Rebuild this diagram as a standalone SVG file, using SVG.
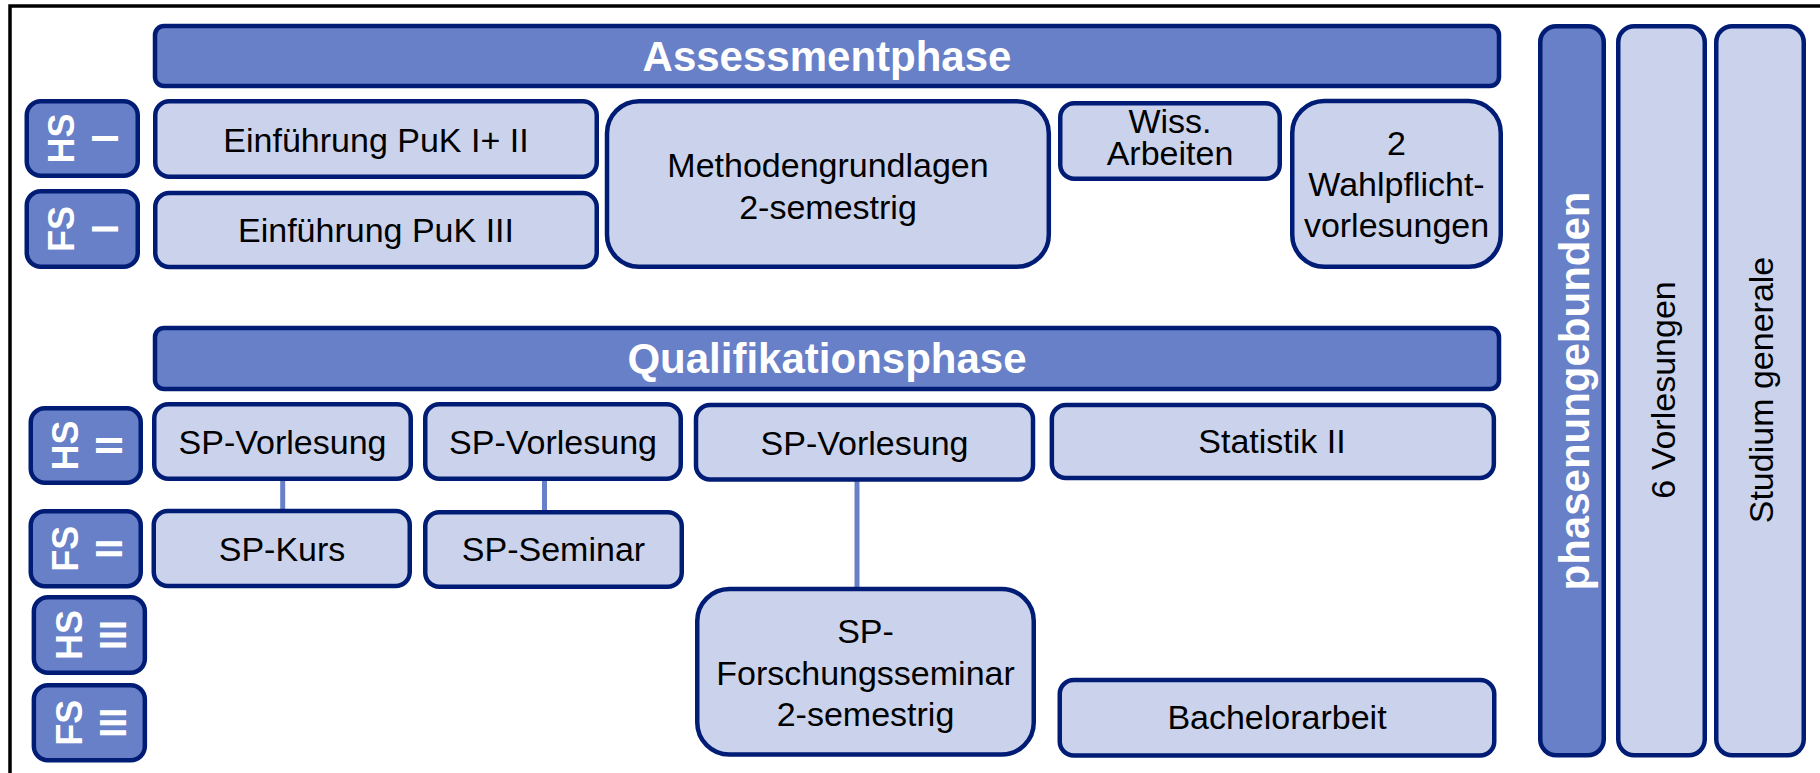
<svg xmlns="http://www.w3.org/2000/svg" width="1820" height="773" viewBox="0 0 1820 773">
<style>
.dk{fill:#6880C8;stroke:#001C74;stroke-width:4.5}
.lt{fill:#CBD3EC;stroke:#001C74;stroke-width:4.5}
.t{font-family:"Liberation Sans",Arial,sans-serif;font-size:34px;fill:#000;text-anchor:middle}
.h{font-family:"Liberation Sans",Arial,sans-serif;font-size:42px;font-weight:bold;fill:#fff;text-anchor:middle}
.b{font-family:"Liberation Sans",Arial,sans-serif;font-size:36px;font-weight:bold;fill:#fff;text-anchor:middle}
.c{stroke:#6880C8;stroke-width:5;fill:none}
</style>
<rect x="0" y="0" width="1820" height="773" fill="#fff"/>
<rect x="10" y="6" width="1900" height="900" fill="#fff" stroke="#000" stroke-width="3.5"/>
<g id="connectors">
<line class="c" x1="282.7" y1="479" x2="282.7" y2="511"/>
<line class="c" x1="544.5" y1="479" x2="544.5" y2="512"/>
<line class="c" x1="857" y1="480" x2="857" y2="589"/>
</g>
<g id="assessmentphase"><rect class="dk" x="155" y="26" width="1344" height="60" rx="9"/><text class="h" x="827" y="71">Assessmentphase</text></g>
<g id="qualifikationsphase"><rect class="dk" x="155" y="328" width="1344" height="61" rx="9"/><text class="h" x="827" y="373">Qualifikationsphase</text></g>
<g id="hs1"><rect class="dk" x="26.75" y="101.25" width="111" height="74.5" rx="14"/><text class="b" transform="translate(82.25,138.5) rotate(-90)"><tspan x="0" y="-8.5">HS</tspan><tspan x="0" y="36">I</tspan></text></g>
<g id="fs1"><rect class="dk" x="26.75" y="191.25" width="111" height="75.5" rx="14"/><text class="b" transform="translate(82.25,229) rotate(-90)"><tspan x="0" y="-8.5">FS</tspan><tspan x="0" y="36">I</tspan></text></g>
<g id="hs2"><rect class="dk" x="30.75" y="408.25" width="110" height="74.5" rx="14"/><text class="b" transform="translate(85.75,445.5) rotate(-90)"><tspan x="0" y="-8">HS</tspan><tspan x="0" y="36.5">II</tspan></text></g>
<g id="fs2"><rect class="dk" x="30.75" y="511.25" width="110" height="75" rx="14"/><text class="b" transform="translate(85.75,548.75) rotate(-90)"><tspan x="0" y="-8">FS</tspan><tspan x="0" y="36.5">II</tspan></text></g>
<g id="hs3"><rect class="dk" x="33.85" y="597.25" width="111" height="75.5" rx="14"/><text class="b" transform="translate(89.35,635) rotate(-90)"><tspan x="0" y="-7.5">HS</tspan><tspan x="0" y="37">III</tspan></text></g>
<g id="fs3"><rect class="dk" x="33.85" y="685.25" width="111" height="75" rx="14"/><text class="b" transform="translate(89.35,722.75) rotate(-90)"><tspan x="0" y="-7.5">FS</tspan><tspan x="0" y="37">III</tspan></text></g>
<g id="einf12"><rect class="lt" x="155.25" y="101.25" width="441.5" height="75.5" rx="14"/><text class="t" x="376" y="152">Einführung PuK I+ II</text></g>
<g id="einf3"><rect class="lt" x="155.25" y="193" width="441.5" height="74" rx="14"/><text class="t" x="376" y="242">Einführung PuK III</text></g>
<g id="methoden"><rect class="lt" x="607" y="101.25" width="441.8" height="165.5" rx="32"/><text class="t" x="828" y="177">Methodengrundlagen</text><text class="t" x="828" y="219">2-semestrig</text></g>
<g id="wiss"><rect class="lt" x="1060.25" y="103.25" width="219.5" height="75.5" rx="14"/><text class="t" x="1170" y="133">Wiss.</text><text class="t" x="1170" y="165">Arbeiten</text></g>
<g id="wahlpflicht"><rect class="lt" x="1292.25" y="101" width="208.5" height="165.75" rx="32"/><text class="t" x="1396.5" y="155">2</text><text class="t" x="1396.5" y="196">Wahlpflicht-</text><text class="t" x="1396.5" y="237">vorlesungen</text></g>
<g id="spv1"><rect class="lt" x="154.25" y="404.25" width="256.5" height="74.5" rx="14"/><text class="t" x="282.5" y="454">SP-Vorlesung</text></g>
<g id="spv2"><rect class="lt" x="425.25" y="404.25" width="255.5" height="74.5" rx="14"/><text class="t" x="553" y="454">SP-Vorlesung</text></g>
<g id="spv3"><rect class="lt" x="696" y="405" width="337" height="74.5" rx="14"/><text class="t" x="864.5" y="455">SP-Vorlesung</text></g>
<g id="statistik"><rect class="lt" x="1051.85" y="405" width="442" height="73" rx="14"/><text class="t" x="1272" y="453">Statistik II</text></g>
<g id="spkurs"><rect class="lt" x="153.75" y="511" width="256" height="75" rx="14"/><text class="t" x="282" y="560.5">SP-Kurs</text></g>
<g id="spseminar"><rect class="lt" x="425.25" y="512.25" width="256.5" height="74.5" rx="14"/><text class="t" x="553.5" y="561">SP-Seminar</text></g>
<g id="spfs"><rect class="lt" x="697.25" y="589" width="336.5" height="165.5" rx="32"/><text class="t" x="865.5" y="643">SP-</text><text class="t" x="865.5" y="684.5">Forschungsseminar</text><text class="t" x="865.5" y="726">2-semestrig</text></g>
<g id="bachelor"><rect class="lt" x="1059.75" y="680" width="434.5" height="75.5" rx="14"/><text class="t" x="1277" y="729">Bachelorarbeit</text></g>
<g id="phasenungebunden"><rect class="dk" x="1540.25" y="26.25" width="63.5" height="729" rx="16"/><text class="h" transform="translate(1572,391) rotate(-90)" x="0" y="17">phasenungebunden</text></g>
<g id="vorlesungen6"><rect class="lt" x="1618.25" y="26.25" width="86.5" height="729" rx="16"/><text class="t" transform="translate(1661.5,390) rotate(-90)" x="0" y="13">6 Vorlesungen</text></g>
<g id="studium"><rect class="lt" x="1716.25" y="26.25" width="87.5" height="729" rx="16"/><text class="t" transform="translate(1760,390) rotate(-90)" x="0" y="13">Studium generale</text></g>
</svg>
